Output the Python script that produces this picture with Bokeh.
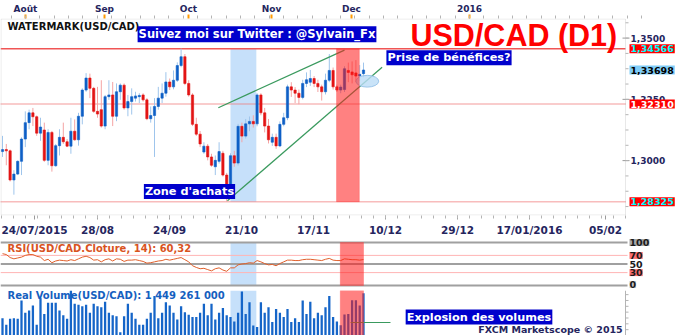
from bokeh.plotting import figure
from bokeh.layouts import column
from bokeh.models import (Range1d, LinearAxis, FixedTicker, Label,
                          BoxAnnotation, ColumnDataSource)
from bokeh.embed import file_html
from bokeh.resources import INLINE

# ------------------------------------------------------------------ data
opens = [1.3037, 1.3045, 1.3040, 1.2921, 1.2945, 1.2997, 1.3088, 1.3155, 1.3195, 1.3179,
         1.3112, 1.3125, 1.3001, 1.3115, 1.2979, 1.3061, 1.3095, 1.3077, 1.3059, 1.3120,
         1.3085, 1.3181, 1.3288, 1.3337, 1.3295, 1.3201, 1.3208, 1.3141, 1.3261, 1.3268,
         1.3181, 1.3281, 1.3308, 1.3215, 1.3241, 1.3255, 1.3261, 1.3268, 1.3248, 1.3171,
         1.3184, 1.3221, 1.3255, 1.3275, 1.3321, 1.3301, 1.3328, 1.3388, 1.3424, 1.3315,
         1.3268, 1.3148, 1.3108, 1.3035, 1.3059, 1.3015, 1.2975, 1.2997, 1.3030, 1.2941,
         1.2900, 1.3020, 1.2990, 1.3140, 1.3100, 1.3150, 1.3160, 1.3150, 1.3268, 1.3195,
         1.3141, 1.3075, 1.3095, 1.3060, 1.3148, 1.3175, 1.3301, 1.3288, 1.3275, 1.3258,
         1.3315, 1.3320, 1.3335, 1.3315, 1.3301, 1.3281, 1.3328, 1.3368, 1.3301, 1.3288,
         1.3290, 1.3368, 1.3362, 1.3358, 1.3345, 1.3355]
highs = [1.3101, 1.3068, 1.3045, 1.2961, 1.3001, 1.3095, 1.3201, 1.3208, 1.3215, 1.3184,
         1.3175, 1.3155, 1.3128, 1.3121, 1.3068, 1.3128, 1.3155, 1.3088, 1.3175, 1.3168,
         1.3195, 1.3295, 1.3357, 1.3355, 1.3301, 1.3301, 1.3328, 1.3268, 1.3328, 1.3321,
         1.3315, 1.3315, 1.3315, 1.3268, 1.3295, 1.3281, 1.3275, 1.3275, 1.3255, 1.3221,
         1.3255, 1.3301, 1.3315, 1.3361, 1.3335, 1.3368, 1.3401, 1.3457, 1.3435, 1.3328,
         1.3275, 1.3175, 1.3121, 1.3075, 1.3068, 1.3028, 1.3021, 1.3075, 1.3040, 1.2950,
         1.3030, 1.3040, 1.3150, 1.3155, 1.3170, 1.3180, 1.3185, 1.3275, 1.3275, 1.3215,
         1.3170, 1.3110, 1.3110, 1.3160, 1.3195, 1.3310, 1.3320, 1.3300, 1.3290, 1.3330,
         1.3360, 1.3370, 1.3345, 1.3330, 1.3310, 1.3355, 1.3435, 1.3380, 1.3310, 1.3310,
         1.3385, 1.3400, 1.3405, 1.3410, 1.3390, 1.3400]
lows = [1.3015, 1.2981, 1.2915, 1.2861, 1.2941, 1.2941, 1.3055, 1.3128, 1.3141, 1.3101,
        1.3081, 1.2995, 1.2981, 1.2955, 1.2975, 1.3021, 1.3068, 1.3055, 1.3028, 1.3081,
        1.3061, 1.3148, 1.3281, 1.3255, 1.3195, 1.3175, 1.3135, 1.3128, 1.3248, 1.3141,
        1.3161, 1.3248, 1.3208, 1.3181, 1.3188, 1.3241, 1.3235, 1.3241, 1.3165, 1.3155,
        1.3015, 1.3208, 1.3235, 1.3261, 1.3288, 1.3291, 1.3321, 1.3381, 1.3308, 1.3261,
        1.3141, 1.3101, 1.3055, 1.3028, 1.3001, 1.2975, 1.2941, 1.2988, 1.2935, 1.2833,
        1.2880, 1.2975, 1.2980, 1.3075, 1.3090, 1.3120, 1.3135, 1.3140, 1.3185, 1.3115,
        1.3070, 1.3060, 1.3048, 1.3055, 1.3140, 1.3165, 1.3260, 1.3235, 1.3230, 1.3250,
        1.3300, 1.3305, 1.3300, 1.3280, 1.3245, 1.3270, 1.3320, 1.3290, 1.3280, 1.3275,
        1.3280, 1.3320, 1.3315, 1.3320, 1.3325, 1.3340]
closes = [1.3045, 1.3040, 1.2921, 1.2945, 1.2997, 1.3088, 1.3155, 1.3195, 1.3179, 1.3112,
          1.3137, 1.3001, 1.3115, 1.2979, 1.3061, 1.3095, 1.3077, 1.3059, 1.3120, 1.3085,
          1.3181, 1.3288, 1.3337, 1.3295, 1.3201, 1.3190, 1.3141, 1.3261, 1.3268, 1.3181,
          1.3281, 1.3308, 1.3215, 1.3241, 1.3261, 1.3264, 1.3266, 1.3248, 1.3171, 1.3184,
          1.3221, 1.3255, 1.3275, 1.3321, 1.3301, 1.3328, 1.3388, 1.3424, 1.3315, 1.3268,
          1.3148, 1.3108, 1.3068, 1.3059, 1.3015, 1.2981, 1.3001, 1.3037, 1.2941, 1.2900,
          1.3020, 1.2990, 1.3140, 1.3100, 1.3150, 1.3160, 1.3150, 1.3268, 1.3195, 1.3141,
          1.3085, 1.3095, 1.3060, 1.3148, 1.3175, 1.3301, 1.3288, 1.3275, 1.3258, 1.3315,
          1.3330, 1.3335, 1.3315, 1.3301, 1.3281, 1.3328, 1.3368, 1.3301, 1.3288, 1.3300,
          1.3375, 1.3360, 1.3350, 1.3345, 1.3352, 1.33698]

rsi_values = [74, 72, 65, 62, 64, 66, 70, 72, 72, 68,
              66, 58, 61, 53, 57, 59, 58, 57, 60, 58,
              62, 66, 68, 65, 59, 60, 55, 60, 62, 57,
              62, 61, 56, 59, 59, 60, 58, 56, 52, 53,
              55, 57, 58, 61, 59, 61, 63, 65, 60, 55,
              46, 42, 39, 40, 37, 34, 39, 41, 36, 33,
              41, 41, 48, 50, 51, 53, 52, 58, 55, 51,
              48, 49, 46, 51, 55, 59, 59, 58, 58, 60,
              61, 61, 60, 59, 58, 61, 63, 59, 58, 58,
              62, 61, 60, 60, 59, 60.32]

volumes_m = [590, 370, 570, 590, 570, 1200, 780, 860, 1030, 370,
             1280, 740, 1120, 1120, 1120, 860, 690, 570, 1620, 1090,
             1050, 1000, 1050, 780, 1090, 1000, 970, 1160, 780, 690,
             660, 110, 660, 1090, 780, 570, 370, 370, 570, 780,
             1350, 590, 780, 1140, 1030, 780, 550, 1000, 800, 710,
             630, 630, 780, 1090, 690, 1090, 550, 780, 940, 690,
             630, 480, 780, 1510, 740, 1140, 340, 290, 1140, 780,
             970, 460, 910, 780, 630, 910, 460, 590, 460, 1200,
             740, 1160, 590, 780, 690, 970, 1350, 630, 480, 350,
             720, 740, 1210, 1210, 1030, 1449.261]

top_ticks = [6.05, 26.84, 48.95, 70.79, 91.84, 122.89]
top_labels = ["Août", "Sep", "Oct", "Nov", "Dec", "2016"]
bottom_ticks = [8.42, 25.0, 43.95, 62.89, 81.84, 100.79, 119.74, 138.68, 158.68]
bottom_labels = ["24/07/2015", "28/08", "24/09", "21/10", "17/11", "10/12",
                 "29/12", "17/01/2016", "05/02"]
price_ticks = [1.30, 1.325, 1.35]
price_labels = ["1,3000", "1,3250", "1,3500"]
rsi_levels = [100, 70, 50, 30, 0]
rsi_level_labels = ["100", "70", "50", "30", "0"]

resistance = 1.34566
pivot = 1.32310
support = 1.28325
last_price = 1.33698

buy_zone = [60.0, 66.8]
profit_zone = [87.9, 93.9]
profit_zone_low = [88.9, 95.0]
upper_trend_x = [56.8, 90.0]
upper_trend_y = [1.3216, 1.3451]
lower_trend_x = [59.2, 99.9]
lower_trend_y = [1.2836, 1.3381]
ellipse_xy = [96.0, 1.3324]
ellipse_wh = [6.0, 0.0048]
vol_note_x = [91.6, 102.1]
vol_note_y = [445, 445]


# ------------------------------------------------------------ helpers
def bx(px):   # canvas pixel x -> bar index
    return (px - 2.0) / 3.8


def mp(py):   # canvas pixel y -> price (main panel)
    return 1.35 - (py - 37.0) / 2500.0


def rp(py):   # canvas pixel y -> RSI value
    return (285.0 - py) / 0.43


def vp(py):   # canvas pixel y -> volume (millions)
    return (335.0 - py) * 1449.261 / 42.3


FONT = "DejaVu Sans"
NAVY = "#25255e"
BLUEBOX = "#0000cc"
GRAY = "#b4b4b4"
RIGHT = bx(625)
xr = Range1d(bx(0), bx(680))


def make_fig(h, yr, top=0, bottom=0):
    return figure(width=680, height=h, x_range=xr, y_range=yr,
                  x_axis_type=None, y_axis_type=None,
                  output_backend="svg", toolbar_location=None,
                  min_border_left=0, min_border_right=0,
                  min_border_top=top, min_border_bottom=bottom,
                  background_fill_color="white", border_fill_color="white",
                  outline_line_color=None)


def style_axis(ax, size):
    ax.axis_line_color = None
    ax.major_label_text_font = FONT
    ax.major_label_text_font_style = "bold"
    ax.major_label_text_font_size = size
    ax.major_label_text_color = NAVY
    ax.major_tick_line_color = "#9a9a9a"
    ax.minor_tick_line_color = GRAY
    ax.major_tick_in = 0
    ax.major_tick_out = 4
    ax.minor_tick_in = 0
    ax.minor_tick_out = 3


def lab(fig, x, y, text, size, color, bg=None, align="left",
        font=FONT, pad=0):
    fig.add_layout(Label(x=x, y=y, text=text, text_font=font,
                         text_font_size=size, text_font_style="bold",
                         text_color=color, text_align=align,
                         text_baseline="middle",
                         background_fill_color=bg, padding=pad))


idx = list(range(len(opens)))

# ------------------------------------------------------------ main panel
p = make_fig(238, Range1d(mp(218), mp(17)), top=17, bottom=20)

top_ax = LinearAxis(ticker=FixedTicker(ticks=top_ticks,
                                       minor_ticks=[6.05 + 3.77 * k for k in range(-1, 44)]),
                    major_label_overrides=dict(zip(top_ticks, top_labels)))
style_axis(top_ax, "9px")
top_ax.major_tick_line_color = "#ff9900"
top_ax.major_tick_line_width = 2
top_ax.major_label_standoff = 1
p.add_layout(top_ax, "above")

bot_ax = LinearAxis(ticker=FixedTicker(ticks=bottom_ticks,
                                       minor_ticks=[bx(1 + 12 * k) for k in range(53)]),
                    major_label_overrides=dict(zip(bottom_ticks, bottom_labels)))
style_axis(bot_ax, "10.5px")
bot_ax.major_label_standoff = 4
p.add_layout(bot_ax, "below")

# plot frame of the price panel (the right part of the canvas holds the price scale)
p.add_layout(BoxAnnotation(left=bx(0.5), right=RIGHT, top=mp(17.5), bottom=mp(217.5),
                           fill_alpha=0, line_color=GRAY, line_width=1))
# price scale ticks
p.segment(x0=[bx(622)] * 3, x1=[bx(629)] * 3, y0=price_ticks, y1=price_ticks,
          line_color="#9a9a9a", line_width=1)
minor_prices = [1.28125 + 0.00625 * k for k in range(13)]
p.segment(x0=[RIGHT] * len(minor_prices), x1=[bx(628)] * len(minor_prices),
          y0=minor_prices, y1=minor_prices, line_color=GRAY, line_width=1)

p.add_layout(BoxAnnotation(left=buy_zone[0], right=buy_zone[1], bottom=support,
                           top=resistance, fill_color="#c6e0fa", fill_alpha=1.0,
                           line_color=None, level="underlay"))

p.segment(x0=[bx(0)], x1=[RIGHT], y0=[resistance], y1=[resistance],
          line_color="#f05555", line_width=1.5)
p.segment(x0=[bx(0)] * 2, x1=[RIGHT] * 2, y0=[pivot, support], y1=[pivot, support],
          line_color="#f07878", line_width=1.5, line_dash="1 1")

up = [c >= o for o, c in zip(opens, closes)]
src = ColumnDataSource(dict(
    x=idx, h=highs, l=lows,
    top=[max(o, c) for o, c in zip(opens, closes)],
    bottom=[min(o, c) for o, c in zip(opens, closes)],
    wick=["#9fc5ec" if u else "#f4a3a3" for u in up],
    body=["#0e5fc6" if u else "#e31414" for u in up],
))
p.segment(x0="x", y0="l", x1="x", y1="h", line_color="wick", line_width=1, source=src)
p.vbar(x="x", width=0.6, top="top", bottom="bottom", fill_color="body",
       line_color="body", line_width=0.6, source=src)

p.segment(x0=[upper_trend_x[0], lower_trend_x[0]], y0=[upper_trend_y[0], lower_trend_y[0]],
          x1=[upper_trend_x[1], lower_trend_x[1]], y1=[upper_trend_y[1], lower_trend_y[1]],
          line_color="#3a9a5e", line_width=1.2)
p.ellipse(x=[ellipse_xy[0]], y=[ellipse_xy[1]], width=ellipse_wh[0], height=ellipse_wh[1],
          fill_color="#bcdcf6", fill_alpha=0.8, line_color="#9cc6ea", line_width=1)

p.add_layout(BoxAnnotation(left=profit_zone[0], right=profit_zone[1], bottom=support,
                           top=resistance, fill_color="#ff1a1a", fill_alpha=0.55,
                           line_color="#ff4040", line_width=1))

lab(p, bx(410), mp(34), "USD/CAD (D1)", "30.5px", "#ff0000", font="Liberation Sans")
lab(p, bx(7), mp(25), "WATERMARK(USD/CAD)", "10px", "#111111")
lab(p, bx(256.5), mp(33), "Suivez moi sur Twitter : @Sylvain_Fx", "11.5px", "white",
    bg=BLUEBOX, align="center", pad=1)
lab(p, bx(448.5), mp(57), "Prise de bénéfices?", "11.3px", "white",
    bg=BLUEBOX, align="center", pad=1)
lab(p, bx(189), mp(193.5), "Zone d'achats", "11.3px", "white",
    bg=BLUEBOX, align="center", pad=1)

for t, s in zip(price_ticks, price_labels):
    lab(p, bx(630), t, s, "9px", NAVY)
lab(p, bx(629), resistance, "1,34566", "9.5px", "#00ffff", bg="#ff0000", pad=1)
lab(p, bx(629), last_price, "1,33698", "9.5px", "#000000", bg="#80cdf8", pad=1)
lab(p, bx(629), pivot, "1,32310", "9.5px", "#ffffff", bg="#ff0000", pad=1)
lab(p, bx(629), support, "1,28325", "9.5px", "#00ffff", bg="#ff0000", pad=1)

# ------------------------------------------------------------ RSI panel
r = make_fig(52, Range1d(rp(290), rp(238)))
r.add_layout(BoxAnnotation(left=buy_zone[0], right=buy_zone[1], bottom=0, top=100,
                           fill_color="#c6e0fa", fill_alpha=1.0, line_color=None,
                           level="underlay"))
r.segment(x0=[bx(0)] * 3, x1=[bx(627)] * 3, y0=[100, 50, 0], y1=[100, 50, 0],
          line_color="#a0a0a0", line_width=2)
r.segment(x0=[bx(0)] * 2, x1=[bx(627)] * 2, y0=[70, 30], y1=[70, 30],
          line_color="#ffb4b4", line_width=1)
r.line(idx, rsi_values, line_color="#e0602c", line_width=1)
r.add_layout(BoxAnnotation(left=profit_zone_low[0], right=profit_zone_low[1],
                           bottom=0, top=100, fill_color="#ff1a1a", fill_alpha=0.55,
                           line_color="#ff4040", line_width=1))
lab(r, bx(7), rp(247.5), "RSI(USD/CAD.Cloture, 14): 60,32", "10px", "#d9531e")
rsi_bgs = ["#a8a8a8", "#ff7070", None, "#ff7070", "#c8c8c8"]
rsi_label_y = [100, 70, 50, 30, rp(284)]
for ly, s, bg in zip(rsi_label_y, rsi_level_labels, rsi_bgs):
    lab(r, bx(629), ly, s, "9.5px", "#1a1a1a", bg=bg)

# ------------------------------------------------------------ volume panel
v = make_fig(45, Range1d(0, vp(290)))
v.add_layout(BoxAnnotation(left=buy_zone[0], right=buy_zone[1], fill_color="#c6e0fa",
                           fill_alpha=1.0, line_color=None, level="underlay"))
v.vbar(x=idx, top=volumes_m, width=0.6, fill_color="#1565c8", line_color=None)
v.add_layout(BoxAnnotation(left=profit_zone_low[0], right=profit_zone_low[1],
                           fill_color="#ff1a1a", fill_alpha=0.55,
                           line_color="#ff4040", line_width=1))
v.line(vol_note_x, vol_note_y, line_color="#3a9a5e", line_width=1.2)
v.segment(x0=[RIGHT], x1=[RIGHT], y0=[0], y1=[vp(290)], line_color=GRAY, line_width=1)
minor_vols = [200 * k for k in range(8)]
v.segment(x0=[RIGHT] * len(minor_vols), x1=[bx(628)] * len(minor_vols),
          y0=minor_vols, y1=minor_vols, line_color=GRAY, line_width=1)
lab(v, bx(7), vp(294.5), "Real Volume(USD/CAD): 1 449 261 000", "10px", "#1560c0")
lab(v, bx(478.5), vp(316.5), "Explosion des volumes", "11.3px", "white",
    bg=BLUEBOX, align="center", pad=1)
lab(v, bx(550), vp(328.5), "FXCM Marketscope © 2015", "9.5px", NAVY, align="center")

layout = column(p, r, v, spacing=0)
open("out.html", "w").write(file_html(layout, INLINE))
